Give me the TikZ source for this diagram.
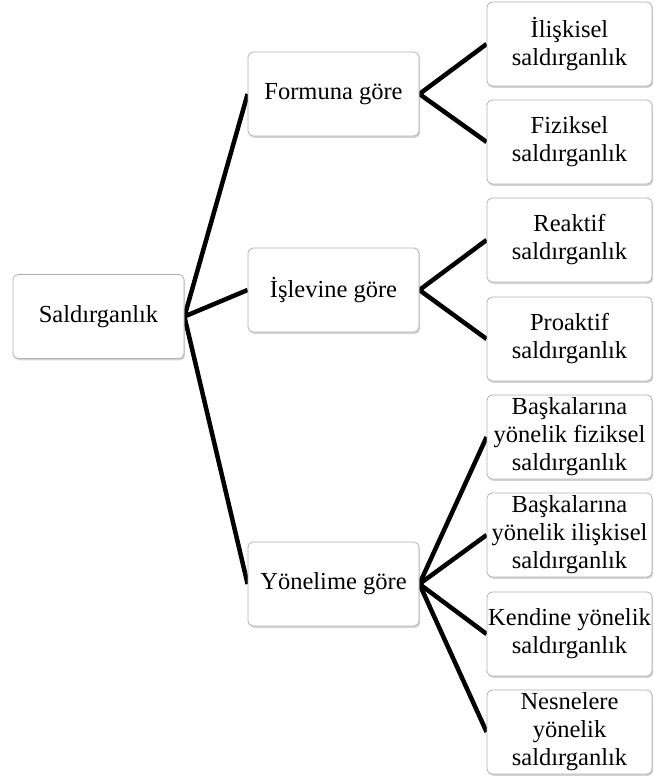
\documentclass[tikz,border=0pt]{standalone}
\usepackage{fontspec}
\setmainfont{Liberation Serif}
\usetikzlibrary{shadows,backgrounds}
\begin{document}
\begin{tikzpicture}[x=1pt,y=-1pt,
  box/.style={draw=gray!60, line width=0.8pt, rounded corners=5pt, fill=white,
    align=center, inner sep=0pt, minimum height=84pt,
    font=\fontsize{24.5}{28}\selectfont,
    drop shadow={opacity=0.35, shadow xshift=1.2pt, shadow yshift=-1.8pt}},
  wbox/.style={box, minimum width=171pt},
  rbox/.style={box, minimum width=165pt},
  conn/.style={line width=4.5pt, black, line join=miter}]
\useasboundingbox (0,0) rectangle (653,781);
\node[wbox] (root) at (98.5,316.5) {Saldırganlık};
\node[wbox] (form) at (333.5,94) {Formuna göre};
\node[wbox] (isl) at (333.5,290) {İşlevine göre};
\node[wbox] (yon) at (333.5,584) {Yönelime göre};
\node[rbox] (r1) at (569.5,44) {İlişkisel\\saldırganlık};
\node[rbox] (r2) at (569.5,142) {Fiziksel\\saldırganlık};
\node[rbox] (r3) at (569.5,240) {Reaktif\\saldırganlık};
\node[rbox] (r4) at (569.5,339) {Proaktif\\saldırganlık};
\node[rbox] (r5) at (569.5,437) {Başkalarına\\yönelik fiziksel\\saldırganlık};
\node[rbox] (r6) at (569.5,535) {Başkalarına\\yönelik ilişkisel\\saldırganlık};
\node[rbox] (r7) at (569.5,634) {Kendine yönelik\\saldırganlık};
\node[rbox] (r8) at (569.5,732) {Nesnelere\\yönelik\\saldırganlık};
\begin{pgfonlayer}{background}
\draw[conn] (form.west) -- (root.east) -- (yon.west);
\draw[conn] (root.east) -- (isl.west);
\draw[conn] (r1.west) -- (form.east) -- (r2.west);
\draw[conn] (r3.west) -- (isl.east) -- (r4.west);
\draw[conn] (r5.west) -- (yon.east) -- (r8.west);
\draw[conn] (r6.west) -- (yon.east) -- (r7.west);
\end{pgfonlayer}
\end{tikzpicture}
\end{document}
